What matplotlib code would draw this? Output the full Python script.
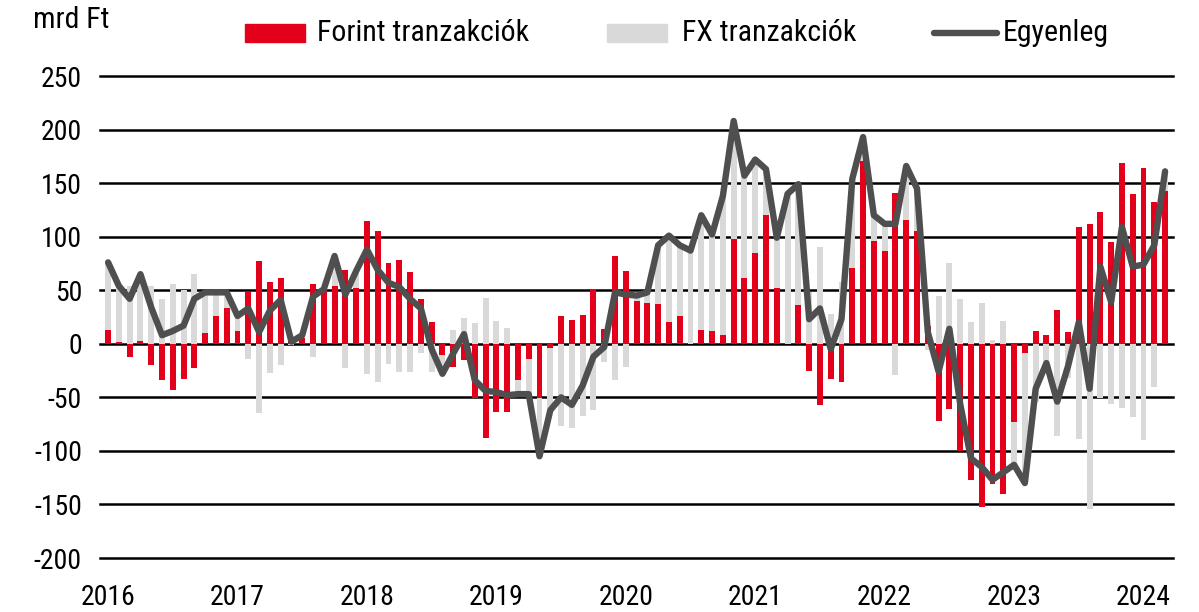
import numpy as np
import matplotlib
matplotlib.use("Agg")
import matplotlib.pyplot as plt
from matplotlib.patches import Rectangle
from matplotlib.lines import Line2D

plt.rcParams['font.family'] = ['Roboto Condensed', 'DejaVu Sans']
plt.rcParams['axes.unicode_minus'] = False

# monthly data, 2016 Jan - 2024 Mar (mrd Ft)
forint = [13, 2, -12, 3, -20, -34, -43, -33, -23, 10, 26, 33,
          12, 48, 77, 58, 61, 3, 5, 56, 51, 54, 69, 52,
          115, 105, 75, 78, 67, 42, 20, -10, -22, -15, -51, -88,
          -64, -64, -34, -14, -51, -4, 26, 22, 27, 51, 14, 82,
          68, 40, 38, 37, 20, 26, 0, 13, 12, 8, 98, 61,
          85, 120, 52, 0, 36, -25, -57, -33, -36, 71, 171, 96,
          87, 141, 116, 105, 17, -72, -61, -100, -127, -152, -131, -140,
          -73, -9, 12, 8, 32, 11, 109, 112, 123, 95, 169, 140,
          164, 132, 143]
fx = [62, 52, 54, 62, 54, 42, 56, 50, 65, 38, 22, 15,
      14, -14, -65, -27, -20, -1, 3, -12, 0, 28, -23, 16,
      -28, -36, -19, -26, -26, -9, -26, -18, 13, 24, 19, 43,
      21, 15, -13, -33, -54, -58, -77, -79, -67, -62, -17, -34,
      -22, 5, 10, 55, 81, 66, 87, 107, 90, 130, 110, 96,
      87, 43, 47, 140, 113, 48, 90, 28, 58, 82, 22, 24,
      25, -29, 50, 40, -6, 45, 75, 42, 20, 38, 4, 21,
      -40, -121, -54, -26, -86, -32, -89, -154, -51, -56, -60, -68,
      -90, -40, 18]
balance = [76, 54, 42, 65, 34, 8, 12, 17, 42, 48, 48, 48,
           26, 33, 11, 31, 41, 2, 8, 44, 51, 82, 46, 68,
           88, 69, 57, 53, 42, 33, -5, -28, -9, 9, -34, -44,
           -45, -48, -47, -47, -105, -62, -50, -57, -39, -12, -3, 48,
           46, 45, 48, 92, 101, 92, 87, 120, 102, 138, 208, 157,
           172, 163, 99, 140, 149, 23, 33, -5, 23, 154, 193, 120,
           112, 112, 166, 145, 11, -26, 14, -56, -107, -115, -127, -120,
           -113, -130, -42, -18, -54, -21, 20, -42, 72, 39, 109, 72,
           74, 92, 161]
years = ['2016', '2017', '2018', '2019', '2020', '2021', '2022', '2023', '2024']

forint = np.array(forint, dtype=float)
fx = np.array(fx, dtype=float)
x = np.arange(len(forint))

RED = '#E2001A'
GREY = '#D9D9D9'
LINE = '#4F4F4F'
FS = 20
LFS = 21.5

W, H = 1199, 612
fig = plt.figure(figsize=(W / 100, H / 100), dpi=100)
ax = fig.add_axes([0.0834, 0.0882, 0.8946, 0.7876])

# stacked like Excel: same-sign parts stack, opposite signs start at zero
fx_bottom = np.where(np.sign(fx) == np.sign(forint), forint, 0)
ax.bar(x, forint, width=0.55, color=RED, zorder=2)
ax.bar(x, fx, width=0.55, bottom=fx_bottom, color=GREY, zorder=2)
ax.plot(x, balance, color=LINE, lw=4.6, solid_joinstyle='round',
        solid_capstyle='round', zorder=3)

for v in range(-200, 251, 50):
    ax.axhline(v, color='black', lw=1.8, zorder=1, clip_on=False)

ax.set_ylim(-200, 250)
ax.set_xlim(-0.75, len(x) - 0.3)
ax.set_yticks(range(-200, 251, 50))
ax.set_xticks(range(0, len(x), 12))
ax.set_xticklabels(years)
ax.tick_params(axis='both', length=0, labelsize=FS, colors='black')
ax.tick_params(axis='y', pad=13)
ax.tick_params(axis='x', pad=19)
for s in ax.spines.values():
    s.set_visible(False)

fig.text(33 / W, 1 - 20 / H, 'mrd Ft', fontsize=LFS, va='center', ha='left')

# legend drawn by hand to match the original spacing
ly = 1 - 33 / H
ph = 17 / H
fig.patches.append(Rectangle((245 / W, ly - ph / 2), 60 / W, ph, color=RED,
                             transform=fig.transFigure, figure=fig))
fig.text(317 / W, ly, 'Forint tranzakciók', fontsize=LFS, va='center', ha='left')
fig.patches.append(Rectangle((607 / W, ly - ph / 2), 60 / W, ph, color=GREY,
                             transform=fig.transFigure, figure=fig))
fig.text(682 / W, ly, 'FX tranzakciók', fontsize=LFS, va='center', ha='left')
fig.lines.append(Line2D([934 / W, 997 / W], [ly, ly], color=LINE, lw=4.6,
                        solid_capstyle='round', transform=fig.transFigure))
fig.text(1003 / W, ly, 'Egyenleg', fontsize=LFS, va='center', ha='left')

fig.savefig('out.png', dpi=100)
